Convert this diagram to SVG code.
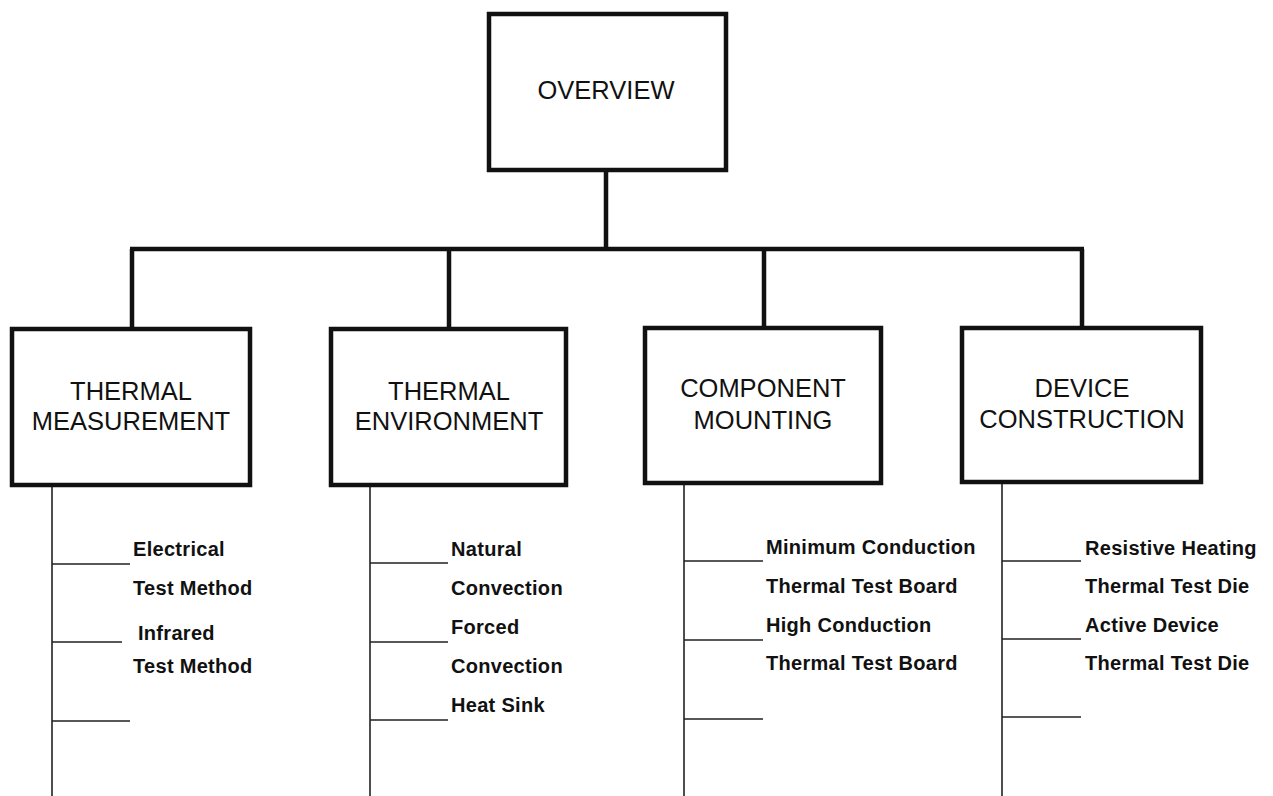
<svg xmlns="http://www.w3.org/2000/svg" width="1273" height="796" viewBox="0 0 1273 796">
<style>
.box{fill:#fff;stroke:#111;stroke-width:4.5}
.bar{fill:none;stroke:#111;stroke-width:4.5}
.thin{fill:none;stroke:#222;stroke-width:1.6}
.title{font-family:"Liberation Sans",Arial,sans-serif;font-size:25.5px;fill:#111;text-anchor:middle}
.item{font-family:"Liberation Sans",Arial,sans-serif;font-size:20px;font-weight:bold;letter-spacing:0.3px;fill:#111}
</style>
<rect width="1273" height="796" fill="#fff"/>
<g id="connectors">
<path class="bar" d="M606 170 V249 M130 249 H1084 M132 249 V329 M449 249 V329 M764 249 V328 M1082 249 V328"/>
<path class="thin" d="M52 485 V796 M52 564 H130 M52 642 H122 M52 721 H130"/>
<path class="thin" d="M370 485 V796 M370 563 H448 M370 642 H448 M370 720 H448"/>
<path class="thin" d="M684 484 V796 M684 561 H763 M684 640 H763 M684 719 H763"/>
<path class="thin" d="M1002 482 V796 M1002 561 H1081 M1002 639 H1081 M1002 717 H1081"/>
</g>
<g id="overview">
<rect class="box" x="489" y="14" width="237" height="156"/>
<text class="title" x="606" y="99">OVERVIEW</text>
</g>
<g id="thermal-measurement">
<rect class="box" x="12" y="329" width="238" height="156"/>
<text class="title" x="131" y="400">THERMAL</text>
<text class="title" x="131" y="430">MEASUREMENT</text>
<text class="item" x="133" y="556">Electrical</text>
<text class="item" x="133" y="595">Test Method</text>
<text class="item" x="138" y="640">Infrared</text>
<text class="item" x="133" y="673">Test Method</text>
</g>
<g id="thermal-environment">
<rect class="box" x="331" y="329" width="235" height="156"/>
<text class="title" x="449" y="400">THERMAL</text>
<text class="title" x="449" y="430">ENVIRONMENT</text>
<text class="item" x="451" y="556">Natural</text>
<text class="item" x="451" y="595">Convection</text>
<text class="item" x="451" y="634">Forced</text>
<text class="item" x="451" y="673">Convection</text>
<text class="item" x="451" y="712">Heat Sink</text>
</g>
<g id="component-mounting">
<rect class="box" x="645" y="328" width="236" height="155"/>
<text class="title" x="763" y="397">COMPONENT</text>
<text class="title" x="763" y="429">MOUNTING</text>
<text class="item" x="766" y="554">Minimum Conduction</text>
<text class="item" x="766" y="593">Thermal Test Board</text>
<text class="item" x="766" y="632">High Conduction</text>
<text class="item" x="766" y="670">Thermal Test Board</text>
</g>
<g id="device-construction">
<rect class="box" x="962" y="328" width="239" height="154"/>
<text class="title" x="1082" y="397">DEVICE</text>
<text class="title" x="1082" y="428">CONSTRUCTION</text>
<text class="item" x="1085" y="555">Resistive Heating</text>
<text class="item" x="1085" y="593">Thermal Test Die</text>
<text class="item" x="1085" y="632">Active Device</text>
<text class="item" x="1085" y="670">Thermal Test Die</text>
</g>
</svg>
